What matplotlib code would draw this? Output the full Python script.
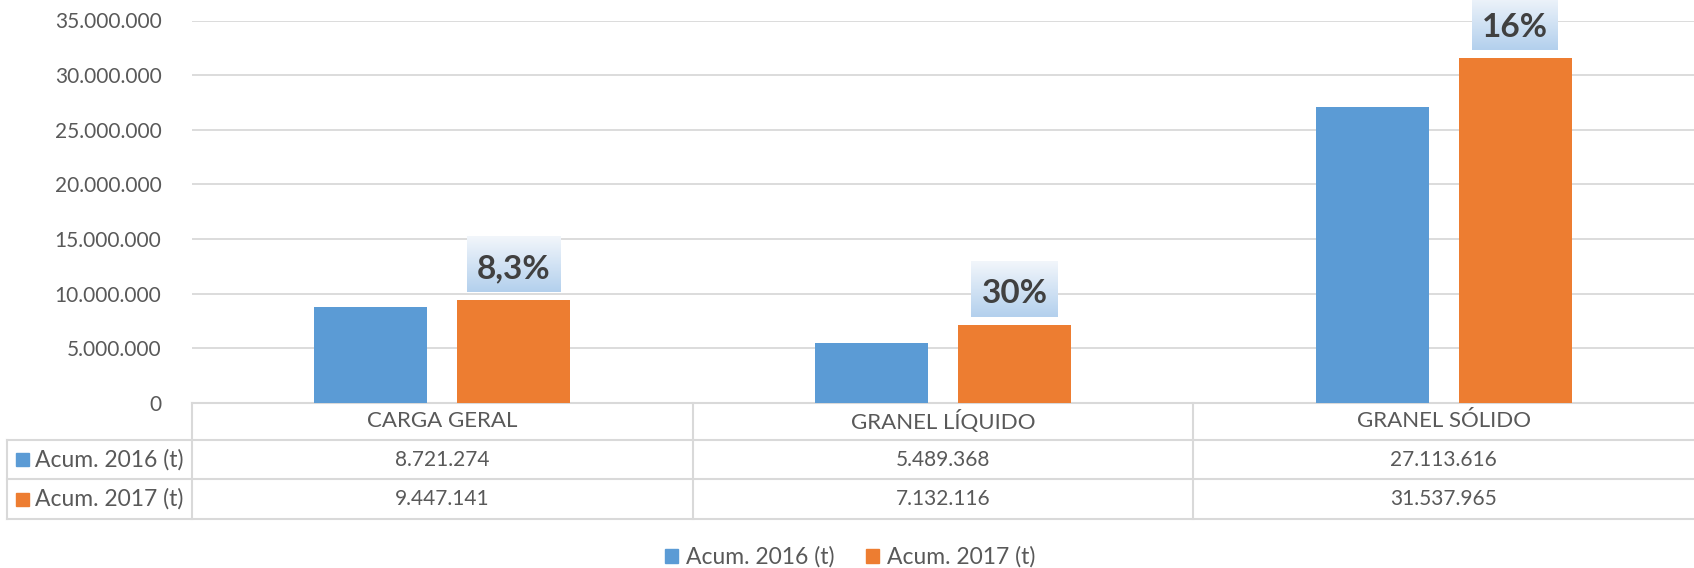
import numpy as np
import matplotlib
matplotlib.use('Agg')
import matplotlib.pyplot as plt
from matplotlib.patches import Patch, Rectangle
from matplotlib.transforms import blended_transform_factory

# data
categories = ['CARGA GERAL', 'GRANEL LÍQUIDO', 'GRANEL SÓLIDO']
acum_2016 = [8721274, 5489368, 27113616]
acum_2017 = [9447141, 7132116, 31537965]
growth_labels = ['8,3%', '30%', '16%']
series_names = ['Acum. 2016 (t)', 'Acum. 2017 (t)']
yticks = np.arange(0, 35000001, 5000000)

blue = '#5b9bd5'
orange = '#ed7d31'
text_c = '#595959'
line_c = '#d9d9d9'


def fmt(v):
    return '{:,.0f}'.format(v).replace(',', '.')


W, H = 1694, 568
plt.rcParams['font.family'] = ['Lato', 'DejaVu Sans']
fig = plt.figure(figsize=(W / 100, H / 100), dpi=100)

# overlay in pixel units (y down) for the data table
over = fig.add_axes([0, 0, 1, 1], zorder=0)
over.set_xlim(0, W)
over.set_ylim(H, 0)
over.axis('off')

x0, y0, y1 = 192, 402.7, 20.5
ax = fig.add_axes([x0 / W, (H - y0) / H, (W - x0) / W, (y0 - y1) / H], zorder=1)
ax.patch.set_alpha(0)

x = np.arange(len(categories))
bw = 0.2257
off = 0.1428
ax.bar(x - off, acum_2016, bw, color=blue, zorder=2)
ax.bar(x + off, acum_2017, bw, color=orange, zorder=2)

ax.set_xlim(-0.5, len(categories) - 0.5)
ax.set_ylim(0, 35000000)
ax.set_yticks(yticks)
ax.set_yticklabels([fmt(v) for v in yticks], fontsize=15, color=text_c)
ax.set_xticks([])
ax.tick_params(axis='y', length=0, pad=22)
ax.grid(axis='y', color=line_c, lw=1.3)
ax.set_axisbelow(True)
for s in ax.spines.values():
    s.set_visible(False)

# growth labels with gradient boxes
grad = np.linspace(0, 1, 64).reshape(-1, 1)
top_c = np.array([0xf2, 0xf6, 0xfb]) / 255
bot_c = np.array([0xb3, 0xd0, 0xed]) / 255
img = top_c + (bot_c - top_c) * grad[:, :, None]
img = img.reshape(64, 1, 3)

fig.canvas.draw()
renderer = fig.canvas.get_renderer()
inv = ax.transData.inverted()
for xi, v, lab in zip(x + off, acum_2017, growth_labels):
    t = ax.annotate(lab, xy=(xi, v), xytext=(0, 21.7), textcoords='offset pixels',
                    ha='center', va='baseline', fontsize=24, fontweight='bold',
                    color='#404040', zorder=4, annotation_clip=False)
    bb = t.get_window_extent(renderer)
    px, py = ax.transData.transform((xi, v))
    left, right = bb.x0 - 10, bb.x1 + 10
    bottom, top = py + 8, py + 63.3
    (dx0, dy0), (dx1, dy1) = inv.transform([(left, bottom), (right, top)])
    ax.imshow(img, extent=(dx0, dx1, dy0, dy1), aspect='auto', origin='upper',
              zorder=3, clip_on=False)

ax.set_xlim(-0.5, len(categories) - 0.5)
ax.set_ylim(0, 35000000)

# data table below the axis
tr = blended_transform_factory(ax.transData, over.transData)
rows = [402.7, 440, 479.3, 519.3]
over.plot([x0, W], [rows[0], rows[0]], color=line_c, lw=1.5)
for r in rows[1:]:
    over.plot([7, W], [r, r], color=line_c, lw=1.5)
over.plot([7, 7], [rows[1], rows[3]], color=line_c, lw=1.5)
for xb in np.arange(len(categories)) - 0.5:
    over.plot([xb, xb], [rows[0], rows[3]], color=line_c, lw=1.5, transform=tr)

for i, cat in enumerate(categories):
    over.text(i, (rows[0] + rows[1]) / 2, cat, transform=tr, ha='center',
              va='center', fontsize=16, color=text_c)
    over.text(i, (rows[1] + rows[2]) / 2, fmt(acum_2016[i]), transform=tr,
              ha='center', va='center', fontsize=15, color=text_c)
    over.text(i, (rows[2] + rows[3]) / 2, fmt(acum_2017[i]), transform=tr,
              ha='center', va='center', fontsize=15, color=text_c)

for j, (name, c) in enumerate(zip(series_names, [blue, orange])):
    yc = (rows[j + 1] + rows[j + 2]) / 2
    over.add_patch(Rectangle((16, yc - 6.5), 13, 13, color=c))
    over.text(35, yc, name, ha='left', va='center', fontsize=16.5, color=text_c)

handles = [Patch(color=blue, label=series_names[0]),
           Patch(color=orange, label=series_names[1])]
fig.legend(handles=handles, loc='center', bbox_to_anchor=(850 / W, (H - 557) / H),
           ncol=2, frameon=False, fontsize=16.5, handlelength=0.55, handleheight=0.55,
           handletextpad=0.35, columnspacing=1.4, labelcolor=text_c)

fig.savefig('out.png', dpi=100)
